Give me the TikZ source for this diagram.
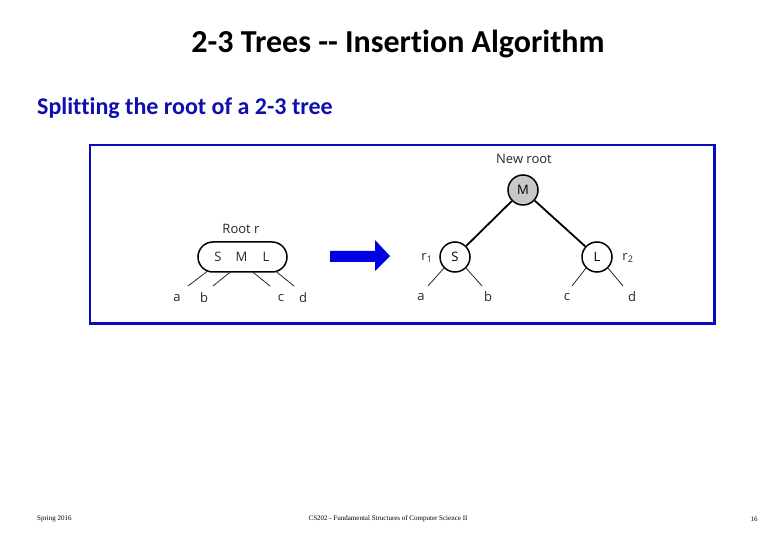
\documentclass[tikz,border=0pt]{standalone}
\usepackage{fontspec}
\usetikzlibrary{shapes.misc}
\setmainfont{Carlito}[Ligatures={NoCommon}]
\newfontfamily\diagfont{Open Sans}
\newfontfamily\footfont{Liberation Serif}
\definecolor{frameblue}{RGB}{10,10,190}
\definecolor{textblue}{RGB}{15,15,175}
\definecolor{arrowblue}{RGB}{0,0,230}
\definecolor{nodegray}{RGB}{200,200,200}
\tikzset{
  lbl/.style={font=\diagfont\fontsize{13}{13}\selectfont, inner sep=0pt, text=black!85},
  edge/.style={line width=0.8pt, black!85},
  thick edge/.style={line width=1.8pt},
  circ/.style={circle, draw, line width=1.5pt, minimum size=30pt, inner sep=0pt, font=\diagfont\fontsize{13}{13}\selectfont},
  foot/.style={font=\footfont\fontsize{7}{7}\selectfont, inner sep=0pt},
}
\begin{document}
\begin{tikzpicture}[x=1pt,y=-1pt]
\useasboundingbox (0,0) rectangle (780,540);
% titles
\node[font=\bfseries\fontsize{32}{32}\selectfont, inner sep=0pt] (title) at (398,44) {2-3 Trees -{}- Insertion Algorithm};
\node[font=\bfseries\fontsize{24}{24}\selectfont, text=textblue, inner sep=0pt, anchor=west] (sub) at (37,108) {Splitting the root of a 2-3 tree};
% frame
\draw[frameblue, line width=2.6pt] (90,145) rectangle (714.5,323.5);
% left tree
\node[draw, rounded rectangle, line width=1.5pt, minimum width=89pt, minimum height=30pt, inner sep=0pt] (pill) at (242.5,257) {};
\node[lbl] (S0) at (218,257) {S};
\node[lbl] (M0) at (241.5,257) {M};
\node[lbl] (L0) at (266,257) {L};
\node[lbl] (rootr) at (241,229) {Root r};
\coordinate (pa) at (207,271.5);
\coordinate (pb) at (231,271.5);
\coordinate (pc) at (252,271.5);
\coordinate (pd) at (276,271.5);
\coordinate (ea) at (188,286);
\coordinate (eb) at (213,286);
\coordinate (ec) at (270,286);
\coordinate (ed) at (294,286);
\draw[edge] (pa) -- (ea);
\draw[edge] (pb) -- (eb);
\draw[edge] (pc) -- (ec);
\draw[edge] (pd) -- (ed);
\node[lbl] (la) at (177,298) {a};
\node[lbl] (lb) at (204,298) {b};
\node[lbl] (lc) at (281,298) {c};
\node[lbl] (ld) at (303,298) {d};
% arrow
\fill[arrowblue] (330,251) -- (375,251) -- (375,240) -- (390,256) -- (375,271) -- (375,262) -- (330,262) -- cycle;
% right tree
\node[circ, fill=nodegray] (M) at (523,190) {M};
\node[circ] (S) at (455,257) {S};
\node[circ] (L) at (597,257) {L};
\node[lbl] (newroot) at (524,159) {New root};
\node[lbl] (r1) at (427,258) {r\textsubscript{1}};
\node[lbl] (r2) at (628,258) {r\textsubscript{2}};
\draw[thick edge] (M) -- (S);
\draw[thick edge] (M) -- (L);
\coordinate (ra) at (428,286);
\coordinate (rb) at (482,286);
\coordinate (rc) at (572,286);
\coordinate (rd) at (623,286);
\draw[edge] (S.south west) ++(0.5,-0.5) -- (ra);
\draw[edge] (S.south east) ++(-0.5,-0.5) -- (rb);
\draw[edge] (L.south west) ++(0.5,-0.5) -- (rc);
\draw[edge] (L.south east) ++(-0.5,-0.5) -- (rd);
\node[lbl] (ra2) at (421,297) {a};
\node[lbl] (rb2) at (488,297) {b};
\node[lbl] (rc2) at (567,297) {c};
\node[lbl] (rd2) at (632,297) {d};
% footer
\node[foot, anchor=west] (f1) at (37,519) {Spring 2016};
\node[foot] (f2) at (388,519) {CS202 - Fundamental Structures of Computer Science II};
\node[foot] (f3) at (754,519) {16};
\end{tikzpicture}
\end{document}
